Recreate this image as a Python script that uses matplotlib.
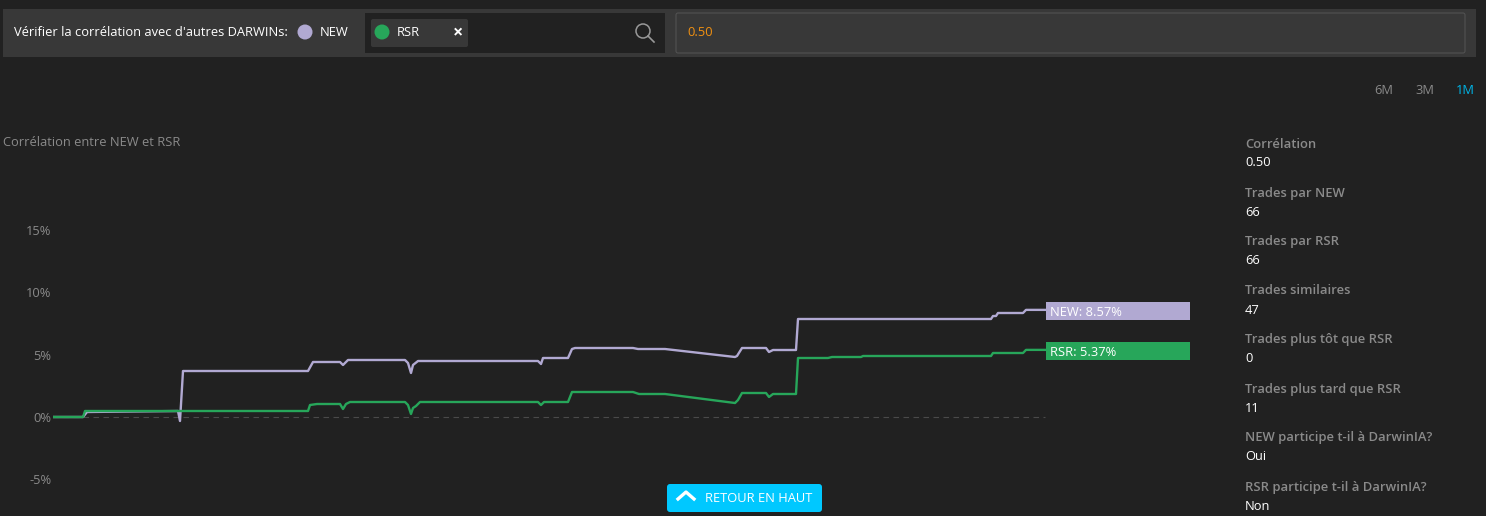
import matplotlib
matplotlib.use('Agg')
import matplotlib.pyplot as plt
from matplotlib.patches import Rectangle, Circle, FancyBboxPatch

plt.rcParams['font.family'] = ['Open Sans', 'DejaVu Sans']

# Time positions and returns (%)
new_x = [0, 30, 34, 125, 127, 130, 255, 260, 287, 290, 295, 352, 355, 358, 360, 365, 485, 488, 490, 515, 519, 522,
         580, 585, 612, 682, 684, 689, 713, 716, 720, 743, 745, 938, 940, 943, 945, 970, 973, 992]
new_y = [0, 0, 0.40, 0.48, -0.32, 3.68, 3.68, 4.40, 4.40, 4.16, 4.56, 4.56, 4.32, 3.52, 4.16, 4.48, 4.48, 4.24, 4.72, 4.72,
         5.44, 5.52, 5.52, 5.44, 5.44, 4.80, 4.88, 5.52, 5.52, 5.20, 5.36, 5.36, 7.84, 7.84, 8.08, 8.08, 8.32, 8.32, 8.57, 8.57]

rsr_x = [0, 30, 32, 255, 257, 264, 287, 290, 293, 297, 352, 355, 358, 360, 363, 367, 485, 488, 491, 515, 519,
         580, 586, 612, 682, 685, 689, 713, 716, 720, 743, 745, 775, 779, 808, 810, 938, 940, 970, 973, 992]
rsr_y = [0, 0, 0.48, 0.48, 0.96, 1.04, 1.04, 0.64, 1.04, 1.20, 1.20, 0.96, 0.24, 0.72, 0.88, 1.20, 1.20, 0.96, 1.20, 1.20,
         2.00, 2.00, 1.84, 1.84, 1.12, 1.36, 1.92, 1.92, 1.60, 1.84, 1.84, 4.72, 4.72, 4.80, 4.80, 4.88, 4.88, 5.12, 5.12, 5.37, 5.37]

y_ticks = [-5, 0, 5, 10, 15]
y_tick_labels = ['-5%', '0%', '5%', '10%', '15%']
range_labels = ['6M', '3M', '1M']
stat_labels = ['Corrélation', 'Trades par NEW', 'Trades par RSR', 'Trades similaires', 'Trades plus tôt que RSR',
               'Trades plus tard que RSR', 'NEW participe t-il à DarwinIA?', 'RSR participe t-il à DarwinIA?']
stat_values = ['0.50', '66', '66', '47', '0', '11', 'Oui', 'Non']

BG = '#212121'
PANEL = '#383838'
PURPLE = '#b1a9d2'
GREEN = '#27a65a'
GREY = '#8a8a8a'
WHITE = '#ffffff'
FS = 9.3

fig = plt.figure(figsize=(14.86, 5.16), dpi=100, facecolor=BG)

# page furniture, in pixel coordinates
ui = fig.add_axes([0, 0, 1, 1])
ui.set_xlim(0, 1486)
ui.set_ylim(516, 0)
ui.axis('off')

ui.add_patch(Rectangle((3, 9), 1473, 48, color=PANEL, lw=0))
ui.text(14, 33, "Vérifier la corrélation avec d'autres DARWINs:", color=WHITE, fontsize=FS, va='center')
ui.add_patch(Circle((305, 32), 7.5, color=PURPLE, lw=0))
ui.text(320, 33, 'NEW', color=WHITE, fontsize=FS, va='center')
ui.add_patch(Rectangle((365, 13), 300, 40, color=BG, lw=0))
ui.add_patch(FancyBboxPatch((373, 21), 93, 24, boxstyle='round,pad=2', color=PANEL, lw=0))
ui.add_patch(Circle((382, 32), 7.5, color=GREEN, lw=0))
ui.text(397, 33, 'RSR', color=WHITE, fontsize=FS, va='center')
ui.text(458, 32, '×', color=WHITE, fontsize=13, fontweight='bold', ha='center', va='center')
ui.add_patch(Circle((643, 31), 7, fill=False, ec='#999999', lw=1.1))
ui.plot([648, 654], [36, 42], color='#999999', lw=1.2)
ui.add_patch(FancyBboxPatch((678, 15), 785, 36, boxstyle='round,pad=2', fc=PANEL, ec='#555555', lw=0.7))
ui.text(687, 33, '0.50', color='#f29111', fontsize=FS, va='center')

for label, px in zip(range_labels, [1374, 1415, 1456]):
    ui.text(px, 90, label, color='#00b4e6' if label == '1M' else GREY, fontsize=FS, va='center')

ui.text(3, 142, 'Corrélation entre NEW et RSR', color=GREY, fontsize=FS, va='center')

for i in range(len(stat_labels)):
    ui.text(1245, 144 + i * 49, stat_labels[i], color=GREY, fontsize=9.4, fontweight='semibold', va='center')
    ui.text(1245, 163 + i * 49, stat_values[i], color=WHITE, fontsize=FS, va='center')

# end labels
ui.add_patch(Rectangle((1046, 302), 144, 18, color=PURPLE, lw=0))
ui.add_patch(Rectangle((1046, 342), 144, 18, color=GREEN, lw=0))
ui.text(1050, 312, f'NEW: {new_y[-1]}%', color=WHITE, fontsize=FS, va='center')
ui.text(1050, 352, f'RSR: {rsr_y[-1]}%', color=WHITE, fontsize=FS, va='center')

# back to top button
ui.add_patch(FancyBboxPatch((670, 487), 149, 22, boxstyle='round,pad=3', color='#00c8ff', lw=0))
ui.plot([678, 686, 694], [499, 492, 499], color=WHITE, lw=2.4)
ui.text(705, 499, 'RETOUR EN HAUT', color=WHITE, fontsize=FS, va='center')

# the chart itself
ax = fig.add_axes([53 / 1486, 0, 1137 / 1486, 386 / 516])
ax.patch.set_alpha(0)
ax.set_xlim(0, 1137)
ax.set_ylim(-99 / 12.5, 287 / 12.5)
ax.plot([0, 992], [0, 0], color='#4a4a4a', lw=0.8, ls=(0, (5, 4)))
ax.plot(new_x, new_y, color=PURPLE, lw=1.7)
ax.plot(rsr_x, rsr_y, color=GREEN, lw=1.7)
ax.set_xticks([])
ax.set_yticks(y_ticks)
ax.set_yticklabels(y_tick_labels, color=GREY, fontsize=FS)
ax.tick_params(axis='y', length=0, pad=1)
for side in ax.spines:
    ax.spines[side].set_visible(False)

fig.savefig('out.png', dpi=100, facecolor=BG)
